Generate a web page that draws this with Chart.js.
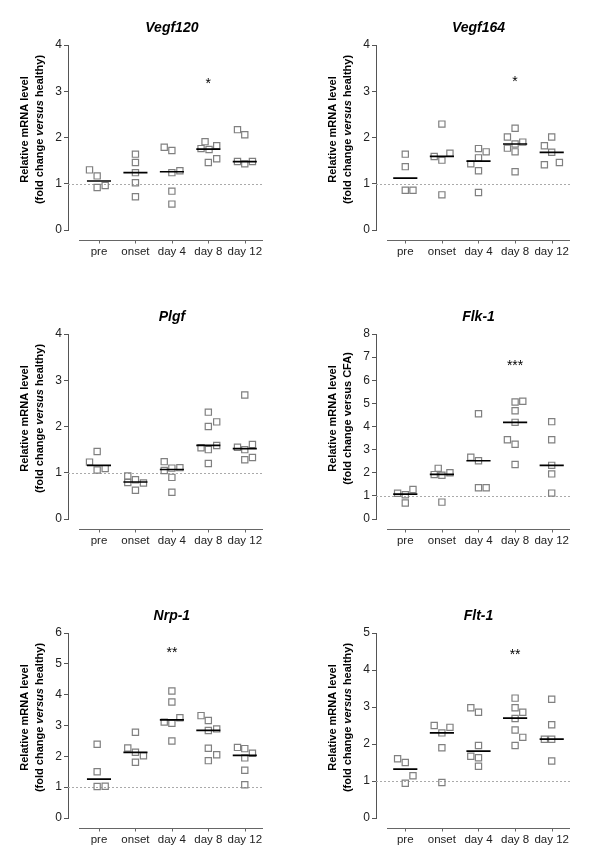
<!DOCTYPE html>
<html>
<head>
<meta charset="utf-8">
<script src="https://cdn.jsdelivr.net/npm/chart.js@4.4.1/dist/chart.umd.min.js"></script>
<style>
  body { margin: 0; background: #fff; width: 600px; height: 863px; position: relative; overflow: hidden; }
  canvas { position: absolute; }
</style>
</head>
<body>
<canvas id="c1"></canvas>
<canvas id="c2"></canvas>
<canvas id="c3"></canvas>
<canvas id="c4"></canvas>
<canvas id="c5"></canvas>
<canvas id="c6"></canvas>
<script>
// groups on the x axis
var categories = ["pre", "onset", "day 4", "day 8", "day 12"];

// Vegf120
var vegf120Values = [[1.30, 1.17, 0.92, 0.96], [1.64, 1.46, 1.24, 1.02, 0.72], [1.79, 1.72, 1.24, 1.28, 0.84, 0.56], [1.91, 1.76, 1.74, 1.82, 1.46, 1.54], [2.17, 2.06, 1.48, 1.43, 1.48]];
var vegf120Jitter = [[-0.26, -0.05, -0.05, 0.17], [0, 0, 0, 0, 0], [-0.21, 0, 0, 0.22, 0, 0], [-0.09, -0.2, 0.02, 0.23, 0, 0.23], [-0.2, 0, -0.2, 0, 0.21]];
var vegf120Medians = [1.06, 1.24, 1.26, 1.75, 1.48];

// Vegf164
var vegf164Values = [[1.64, 1.37, 0.86, 0.86], [2.29, 1.59, 1.51, 1.66, 0.76], [1.76, 1.69, 1.56, 1.43, 1.28, 0.81], [2.20, 2.01, 1.77, 1.86, 1.90, 1.69, 1.26], [2.01, 1.82, 1.68, 1.41, 1.46]];
var vegf164Jitter = [[0, 0, 0, 0.21], [0, -0.21, 0, 0.22, 0], [0, 0.21, 0, -0.21, 0, 0], [0, -0.21, -0.21, 0, 0.21, 0, 0], [0, -0.2, 0, -0.2, 0.21]];
var vegf164Medians = [1.12, 1.59, 1.49, 1.86, 1.68];

// Plgf
var plgfValues = [[1.23, 1.46, 1.06, 1.09], [0.93, 0.79, 0.85, 0.62, 0.78], [1.24, 1.05, 1.10, 1.11, 0.90, 0.58], [2.31, 2.00, 2.10, 1.54, 1.50, 1.59, 1.20], [2.68, 1.55, 1.50, 1.61, 1.28, 1.33]];
var plgfJitter = [[-0.26, -0.05, -0.05, 0.17], [-0.21, -0.21, 0, 0, 0.22], [-0.21, -0.21, 0, 0.22, 0, 0], [0, 0, 0.23, -0.2, 0, 0.23, 0], [0, -0.2, 0, 0.21, 0, 0.21]];
var plgfMedians = [1.16, 0.80, 1.07, 1.59, 1.52];

// Flk-1
var flk1Values = [[1.11, 1.05, 1.28, 0.69], [1.92, 1.89, 2.19, 2.00, 0.73], [4.55, 2.67, 2.52, 1.35, 1.35], [5.06, 5.09, 4.68, 4.18, 3.43, 3.23, 2.36], [4.21, 3.43, 2.32, 1.95, 1.12]];
var flk1Jitter = [[-0.21, 0, 0.21, 0], [-0.21, 0, -0.1, 0.22, 0], [0, -0.21, 0, 0, 0.21], [0, 0.21, 0, 0, -0.21, 0, 0], [0, 0, 0, 0, 0]];
var flk1Medians = [1.08, 1.93, 2.52, 4.18, 2.32];

// Nrp-1
var nrp1Values = [[2.39, 1.50, 1.02, 1.03], [2.78, 2.27, 2.13, 2.02, 1.81], [4.12, 3.76, 3.11, 3.25, 3.07, 2.50], [3.32, 3.16, 2.84, 2.89, 2.26, 2.05, 1.86], [2.29, 2.25, 2.10, 1.95, 1.55, 1.08]];
var nrp1Jitter = [[-0.05, -0.05, -0.05, 0.17], [0, -0.21, 0, 0.22, 0], [0, 0, -0.21, 0.22, 0, 0], [-0.2, 0, 0, 0.23, 0, 0.23, 0], [-0.2, 0, 0.21, 0, 0, 0]];
var nrp1Medians = [1.26, 2.13, 3.18, 2.84, 2.03];

// Flt-1
var flt1Values = [[1.60, 1.50, 1.14, 0.94], [2.50, 2.30, 2.45, 1.90, 0.96], [2.98, 2.86, 1.96, 1.67, 1.63, 1.40], [3.24, 2.98, 2.86, 2.69, 2.38, 2.18, 1.96], [3.21, 2.52, 2.13, 2.13, 1.54]];
var flt1Jitter = [[-0.21, 0, 0.21, 0], [-0.21, 0, 0.22, 0, 0], [-0.21, 0, 0, -0.21, 0, 0], [0, 0, 0.21, 0, 0, 0.21, 0], [0, 0, -0.2, 0, 0]];
var flt1Medians = [1.32, 2.30, 1.81, 2.70, 2.13];

var fontFamily = '"Liberation Sans", Arial, sans-serif';

// titles, y extents and significance marks drawn on each panel
var decor = {
  id: "decor",
  beforeDatasetsDraw: function (chart) {
    var ctx = chart.ctx, a = chart.chartArea, y = chart.scales.y.getPixelForValue(1);
    ctx.save();
    ctx.strokeStyle = "#aaaaaa";
    ctx.lineWidth = 1;
    ctx.setLineDash([2, 2]);
    ctx.beginPath();
    ctx.moveTo(a.left, Math.round(y) + 0.5);
    ctx.lineTo(a.right, Math.round(y) + 0.5);
    ctx.stroke();
    ctx.restore();
  },
  afterDraw: function (chart, args, o) {
    var ctx = chart.ctx, a = chart.chartArea, xs = chart.scales.x, ys = chart.scales.y;
    ctx.save();
    // x axis line, set below the y axis like in Prism
    var ly = a.bottom + 10.5;
    ctx.strokeStyle = "#666";
    ctx.lineWidth = 1;
    ctx.beginPath();
    ctx.moveTo(a.left + 11, ly);
    ctx.lineTo(a.right, ly);
    categories.forEach(function (c, i) {
      var px = Math.round(xs.getPixelForValue(i)) + 0.5;
      ctx.moveTo(px, ly);
      ctx.lineTo(px, ly + 3);
    });
    ctx.stroke();

    // title
    ctx.fillStyle = "#000";
    ctx.font = "italic bold 14px " + fontFamily;
    ctx.textAlign = "center";
    ctx.textBaseline = "middle";
    ctx.fillText(o.title, xs.getPixelForValue(2), a.top - 17);

    // stars
    if (o.star) {
      ctx.font = "14px " + fontFamily;
      ctx.textBaseline = "alphabetic";
      ctx.fillText(o.star.text, xs.getPixelForValue(o.star.cat), ys.getPixelForValue(o.star.y) + 7.5);
    }

    // y axis title, two lines
    var yc = (a.top + a.bottom) / 2 - 8;
    ctx.translate(a.left - 43, yc);
    ctx.rotate(-Math.PI / 2);
    ctx.font = "bold 11px " + fontFamily;
    ctx.textBaseline = "middle";
    ctx.fillText("Relative mRNA level", 0, 0);
    var parts = o.yParts, total = 0;
    parts.forEach(function (p) {
      ctx.font = (p[1] ? "italic " : "") + "bold 11px " + fontFamily;
      total += ctx.measureText(p[0]).width;
    });
    var x = -total / 2;
    ctx.textAlign = "left";
    parts.forEach(function (p) {
      ctx.font = (p[1] ? "italic " : "") + "bold 11px " + fontFamily;
      ctx.fillText(p[0], x, 15);
      x += ctx.measureText(p[0]).width;
    });
    ctx.restore();
  }
};

var healthyLabel = [["(fold change ", false], ["versus", true], [" healthy)", false]];
var cfaLabel = [["(fold change versus CFA)", false]];

function makePanel(id, box, title, yParts, yMax, values, jitter, medians, star) {
  var canvas = document.getElementById(id);
  var h = box.bottom - box.top + 50 + 40;
  canvas.width = 300;
  canvas.height = h;
  canvas.style.left = box.col + "px";
  canvas.style.top = (box.top - 50) + "px";

  var points = [];
  values.forEach(function (grp, i) {
    grp.forEach(function (v, j) { points.push({ x: i + jitter[i][j], y: v }); });
  });
  var medianLine = [];
  medians.forEach(function (m, i) {
    medianLine.push({ x: i - 0.33, y: m }, { x: i + 0.33, y: m }, { x: i + 0.4, y: null });
  });
  var span = (box.right - box.left);

  return new Chart(canvas, {
    type: "scatter",
    data: {
      datasets: [
        {
          data: points,
          pointStyle: "rect",
          pointRadius: 4.4,
          pointBorderWidth: 1.2,
          borderColor: "#808080",
          backgroundColor: "rgba(255,255,255,0)",
          order: 2
        },
        {
          type: "line",
          data: medianLine,
          borderColor: "#000",
          borderWidth: 1.7,
          pointRadius: 0,
          spanGaps: false,
          order: 1
        }
      ]
    },
    options: {
      responsive: false,
      animation: false,
      events: [],
      layout: { padding: { top: 50, right: 300 - (box.right - box.col), bottom: 0, left: 0 } },
      plugins: {
        legend: { display: false },
        tooltip: { enabled: false },
        decor: { title: title, yParts: yParts, star: star }
      },
      scales: {
        x: {
          type: "linear",
          min: box.xMin,
          max: 4.5,
          grid: { display: false, drawTicks: false },
          border: { display: false },
          afterBuildTicks: function (s) { s.ticks = categories.map(function (c, i) { return { value: i }; }); },
          afterFit: function (s) { s.height = 40; },
          ticks: {
            callback: function (v) { return categories[v]; },
            padding: 15,
            autoSkip: false,
            maxRotation: 0,
            color: "#222",
            font: { size: 11.5, family: fontFamily }
          }
        },
        y: {
          min: 0,
          max: yMax,
          afterFit: function (s) { s.width = box.left - box.col; },
          grid: { drawOnChartArea: false, tickLength: 4, color: "#555" },
          border: { color: "#555" },
          ticks: { stepSize: 1, padding: 2, color: "#222", font: { size: 12, family: fontFamily } }
        }
      }
    },
    plugins: [decor]
  });
}

makePanel("c1", { col: 0, left: 68, right: 263, top: 45, bottom: 230, xMin: -0.85 }, "Vegf120", healthyLabel, 4,
  vegf120Values, vegf120Jitter, vegf120Medians, { text: "*", cat: 3, y: 3.24 });
makePanel("c2", { col: 300, left: 376, right: 570, top: 45, bottom: 230, xMin: -0.8 }, "Vegf164", healthyLabel, 4,
  vegf164Values, vegf164Jitter, vegf164Medians, { text: "*", cat: 3, y: 3.28 });
makePanel("c3", { col: 0, left: 68, right: 263, top: 334, bottom: 519, xMin: -0.85 }, "Plgf", healthyLabel, 4,
  plgfValues, plgfJitter, plgfMedians, null);
makePanel("c4", { col: 300, left: 376, right: 570, top: 334, bottom: 519, xMin: -0.8 }, "Flk-1", cfaLabel, 8,
  flk1Values, flk1Jitter, flk1Medians, { text: "***", cat: 3, y: 6.75 });
makePanel("c5", { col: 0, left: 68, right: 263, top: 633, bottom: 818, xMin: -0.85 }, "Nrp-1", healthyLabel, 6,
  nrp1Values, nrp1Jitter, nrp1Medians, { text: "**", cat: 2, y: 5.48 });
makePanel("c6", { col: 300, left: 376, right: 570, top: 633, bottom: 818, xMin: -0.8 }, "Flt-1", healthyLabel, 5,
  flt1Values, flt1Jitter, flt1Medians, { text: "**", cat: 3, y: 4.49 });
</script>
</body>
</html>
